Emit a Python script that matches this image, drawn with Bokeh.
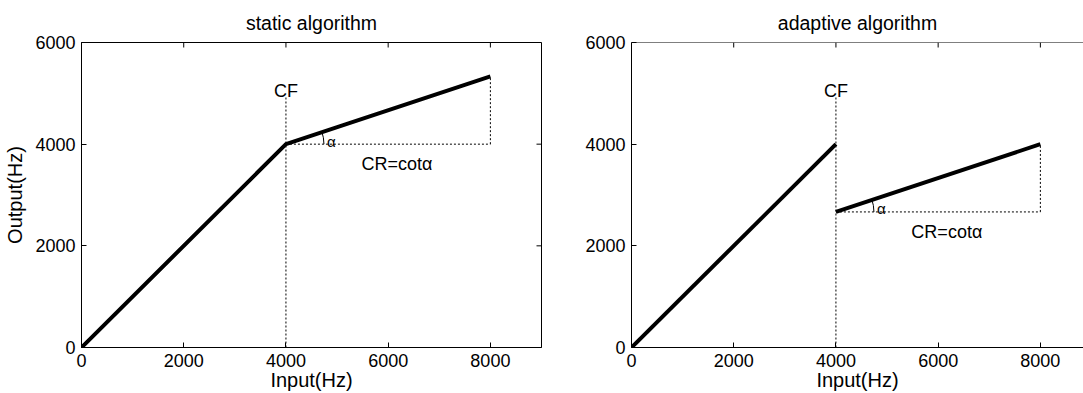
import math
from bokeh.plotting import figure
from bokeh.models import Range1d, FixedTicker, Label, Span
from bokeh.layouts import row
from bokeh.embed import file_html
from bokeh.resources import INLINE

# ---- data ----
x_ticks = [0, 2000, 4000, 6000, 8000]
y_ticks = [0, 2000, 4000, 6000]

cf = 4000
static_x = [0, 4000, 8000]
static_y = [0, 4000, 5333]

adapt_low_x = [0, 4000]
adapt_low_y = [0, 4000]
adapt_high_x = [4000, 8000]
adapt_high_y = [2667, 4000]

cf_line_top = 4950

FONT = "Liberation Sans"
FS_TICK = "18px"
FS_LAB = "20px"
FS_TITLE = "19.5px"


def style_axis(ax, ticks):
    ax.ticker = FixedTicker(ticks=ticks)
    ax.major_tick_in = 5
    ax.major_tick_out = 0
    ax.minor_tick_in = 0
    ax.minor_tick_out = 0
    ax.axis_line_color = "black"
    ax.major_tick_line_color = "black"
    ax.major_label_text_font = FONT
    ax.major_label_text_font_size = FS_TICK
    ax.major_label_text_color = "black"
    ax.axis_label_text_font = FONT
    ax.axis_label_text_font_size = FS_LAB
    ax.axis_label_text_font_style = "normal"
    ax.axis_label_text_color = "black"


def make_fig(title, xmax, width, border_left, border_right, ylabel):
    p = figure(width=width, height=393, x_range=Range1d(0, xmax), y_range=Range1d(0, 6000),
               output_backend="svg", toolbar_location=None, title=title,
               min_border_left=border_left, min_border_right=border_right,
               min_border_top=40, min_border_bottom=46)
    p.title.align = "center"
    p.title.text_font = FONT
    p.title.text_font_size = FS_TITLE
    p.title.text_font_style = "normal"
    p.title.text_color = "black"
    p.title.standoff = 18
    p.xgrid.visible = False
    p.ygrid.visible = False
    p.background_fill_color = "white"
    p.border_fill_color = "white"
    style_axis(p.xaxis[0], x_ticks)
    style_axis(p.yaxis[0], y_ticks)
    p.xaxis[0].axis_label = "Input(Hz)"
    p.xaxis[0].major_label_standoff = 6
    p.xaxis[0].axis_label_standoff = -1
    p.yaxis[0].major_label_standoff = 6
    if ylabel:
        p.yaxis[0].axis_label = ylabel
        p.yaxis[0].axis_label_standoff = 6
    # inward ticks along the top edge
    p.ray(x=x_ticks, y=[6000] * len(x_ticks), length=5, length_units="screen",
          angle=-math.pi / 2, line_color="black", line_width=1)
    return p


dash = "2 2"

# ---- static ----
p1 = make_fig("static algorithm", 9000, 556, 81, 15, "Output(Hz)")
p1.outline_line_color = "black"
p1.outline_line_alpha = 1.0
p1.ray(x=[9000] * len(y_ticks), y=y_ticks, length=5, length_units="screen",
       angle=math.pi, line_color="black", line_width=1)

p1.line([cf, cf], [0, cf_line_top], line_color="black", line_width=1, line_dash=dash)
p1.line([static_x[1], static_x[2]], [static_y[1], static_y[1]], line_color="black", line_width=1, line_dash=dash)
p1.line([static_x[2], static_x[2]], [static_y[1], static_y[2]], line_color="black", line_width=1, line_dash=dash)
p1.line(static_x, static_y, line_color="black", line_width=4)
p1.arc(x=[static_x[1]], y=[static_y[1]], radius=38, radius_units="screen",
       start_angle=0.0, end_angle=0.34, line_color="black", line_width=1)
p1.add_layout(Label(x=cf, y=cf_line_top, y_offset=5, text="CF", text_align="center",
                    text_baseline="alphabetic", text_font=FONT, text_font_size=FS_TICK, text_color="black"))
p1.add_layout(Label(x=static_x[1], y=static_y[1], x_offset=41, y_offset=3, text="α", text_align="left",
                    text_baseline="alphabetic", text_font=FONT, text_font_size="15px", text_color="black"))
p1.add_layout(Label(x=(static_x[1] + static_x[2]) / 2 + 170, y=static_y[1], y_offset=-10, text="CR=cotα",
                    text_align="center", text_baseline="top", text_font=FONT, text_font_size=FS_TICK,
                    text_color="black"))

# ---- adaptive ----
p2 = make_fig("adaptive algorithm", 8844, 527, 75, 0, None)
p2.outline_line_color = None
p2.add_layout(Span(location=6000, dimension="width", line_color="black", line_width=1))

p2.line([cf, cf], [0, cf_line_top], line_color="black", line_width=1, line_dash=dash)
p2.line([adapt_high_x[0], adapt_high_x[1]], [adapt_high_y[0], adapt_high_y[0]], line_color="black", line_width=1, line_dash=dash)
p2.line([adapt_high_x[1], adapt_high_x[1]], [adapt_high_y[0], adapt_high_y[1]], line_color="black", line_width=1, line_dash=dash)
p2.line(adapt_low_x, adapt_low_y, line_color="black", line_width=4)
p2.line(adapt_high_x, adapt_high_y, line_color="black", line_width=4)
p2.arc(x=[adapt_high_x[0]], y=[adapt_high_y[0]], radius=38, radius_units="screen",
       start_angle=0.0, end_angle=0.34, line_color="black", line_width=1)
p2.add_layout(Label(x=cf, y=cf_line_top, y_offset=5, text="CF", text_align="center",
                    text_baseline="alphabetic", text_font=FONT, text_font_size=FS_TICK, text_color="black"))
p2.add_layout(Label(x=adapt_high_x[0], y=adapt_high_y[0], x_offset=41, y_offset=3, text="α", text_align="left",
                    text_baseline="alphabetic", text_font=FONT, text_font_size="15px", text_color="black"))
p2.add_layout(Label(x=(adapt_high_x[0] + adapt_high_x[1]) / 2 + 170, y=adapt_high_y[0], y_offset=-10, text="CR=cotα",
                    text_align="center", text_baseline="top", text_font=FONT, text_font_size=FS_TICK,
                    text_color="black"))

layout = row(p1, p2)
open("out.html", "w").write(file_html(layout, INLINE))
